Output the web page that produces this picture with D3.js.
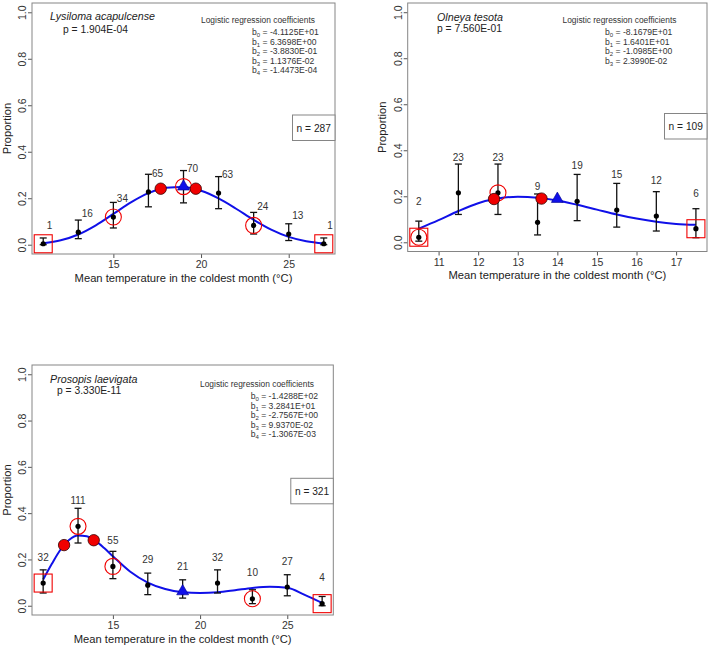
<!DOCTYPE html>
<html>
<head>
<meta charset="utf-8">
<script src="https://cdn.jsdelivr.net/npm/d3@7"></script>
<style>
  body { margin: 0; background: #fff; }
  svg { display: block; font-family: "Liberation Sans", Arial, sans-serif; }
</style>
</head>
<body>
<div id="chart"></div>
<script>
// Lysiloma acapulcense
const lysX = [11, 13, 15, 17, 19, 21, 23, 25, 27];
const lysP = [0.004, 0.054, 0.119, 0.227, 0.25, 0.222, 0.083, 0.046, 0.004];
const lysLo = [0, 0.026, 0.072, 0.163, 0.18, 0.155, 0.046, 0.018, 0];
const lysHi = [0.029, 0.106, 0.182, 0.303, 0.319, 0.293, 0.139, 0.09, 0.029];
const lysN = [1, 16, 34, 65, 70, 63, 24, 13, 1];
const lysFitX = [11, 12, 13, 14, 15, 16, 17, 18, 19, 20, 21, 22, 23, 24, 25, 26, 27];
const lysFitP = [0.0066, 0.019, 0.0439, 0.0833, 0.1325, 0.1821, 0.2218, 0.2449, 0.2483,
                 0.2319, 0.1989, 0.1547, 0.1072, 0.065, 0.0338, 0.0149, 0.0054];
const lysOpt = [19, 0.248];
const lysRangeX = [17.7, 19.7];
const lysRangeP = [0.241, 0.241];
const lysCircled = [15, 19, 23];
const lysBoxed = [11, 27];
const lysCoef = ["-4.1125E+01", "6.3698E+00", "-3.8830E-01", "1.1376E-02", "-1.4473E-04"];
const lysPval = "1.904E-04";
const lysTotal = 287;

// Olneya tesota
const olnX = [10.5, 11.5, 12.5, 13.5, 14.5, 15.5, 16.5, 17.5];
const olnP = [0.022, 0.215, 0.215, 0.087, 0.178, 0.14, 0.114, 0.059];
const olnLo = [0.005, 0.121, 0.121, 0.032, 0.094, 0.066, 0.049, 0.02];
const olnHi = [0.092, 0.34, 0.34, 0.21, 0.295, 0.256, 0.22, 0.146];
const olnN = [2, 23, 23, 9, 19, 15, 12, 6];
const olnFitX = [10.5, 11, 11.5, 12, 12.5, 13, 13.5, 14, 14.5, 15, 15.5, 16, 16.5, 17, 17.5];
const olnFitP = [0.059, 0.096, 0.136, 0.17, 0.19, 0.198, 0.194, 0.182, 0.163,
                 0.142, 0.121, 0.103, 0.089, 0.08, 0.076];
const olnOpt = [14, 0.186];
const olnRangeX = [12.4, 13.6];
const olnRangeP = [0.188, 0.19];
const olnCircled = [10.5, 12.5];
const olnBoxed = [10.5, 17.5];
const olnCoef = ["-8.1679E+01", "1.6401E+01", "-1.0985E+00", "2.3990E-02"];
const olnPval = "7.560E-01";
const olnTotal = 109;

// Prosopis laevigata
const proX = [11, 13, 15, 17, 19, 21, 23, 25, 27];
const proP = [0.098, 0.343, 0.17, 0.089, 0.059, 0.098, 0.03, 0.081, 0.009];
const proLo = [0.055, 0.271, 0.117, 0.048, 0.033, 0.055, 0.009, 0.043, 0];
const proHi = [0.155, 0.421, 0.235, 0.141, 0.112, 0.155, 0.069, 0.134, 0.04];
const proN = [32, 111, 55, 29, 21, 32, 10, 27, 4];
const proFitX = [11, 11.5, 12, 12.5, 13, 13.5, 14, 14.5, 15, 16, 17, 18, 19, 20, 21, 22, 23, 24, 25, 26, 27];
const proFitP = [0.113, 0.181, 0.243, 0.285, 0.303, 0.3, 0.28, 0.249, 0.214, 0.147, 0.1,
                 0.072, 0.058, 0.055, 0.058, 0.067, 0.077, 0.082, 0.078, 0.047, 0.012];
const proOpt = [19, 0.06];
const proRangeX = [12.2, 13.9];
const proRangeP = [0.262, 0.283];
const proCircled = [13, 15, 23];
const proBoxed = [11, 27];
const proCoef = ["-1.4288E+02", "3.2841E+01", "-2.7567E+00", "9.9370E-02", "-1.3067E-03"];
const proPval = "3.330E-11";
const proTotal = 321;

const yTicks = [0, 0.2, 0.4, 0.6, 0.8, 1.0];
const xLabel = "Mean temperature in the coldest month (\u00B0C)";

const width = 709, height = 648;
const frameColor = "#858585", textColor = "#222", red = "#f00000", blue = "#1010e8";

const panels = [
  { species: "Lysiloma acapulcense", pval: lysPval, total: lysTotal, coef: lysCoef,
    x: lysX, p: lysP, lo: lysLo, hi: lysHi, n: lysN, fitX: lysFitX, fitP: lysFitP,
    opt: lysOpt, rangeX: lysRangeX, rangeP: lysRangeP, circled: lysCircled, boxed: lysBoxed,
    xDomain: [10.36, 27.64], xTicks: [15, 20, 25],
    box: { l: 32, r: 335, t: 3, b: 254 }, nTop: 115,
    sp: [50, 20], pv: [63, 33], coefHead: [258, 23], coefX: 252,
    nLabel: { dx: 3.5, anchor: "start", dy: 0.08 } },
  { species: "Olneya tesota", pval: olnPval, total: olnTotal, coef: olnCoef,
    x: olnX, p: olnP, lo: olnLo, hi: olnHi, n: olnN, fitX: olnFitX, fitP: olnFitP,
    opt: olnOpt, rangeX: olnRangeX, rangeP: olnRangeP, circled: olnCircled, boxed: olnBoxed,
    xDomain: [10.22, 17.78], xTicks: [11, 12, 13, 14, 15, 16, 17],
    box: { l: 407.7, r: 707, t: 3, b: 251.5 }, nTop: 113.5,
    sp: [437, 21], pv: [437, 31.5], coefHead: [619.5, 23], coefX: 605,
    nLabel: { dx: 0, anchor: "middle", dy: 0.155 } },
  { species: "Prosopis laevigata", pval: proPval, total: proTotal, coef: proCoef,
    x: proX, p: proP, lo: proLo, hi: proHi, n: proN, fitX: proFitX, fitP: proFitP,
    opt: proOpt, rangeX: proRangeX, rangeP: proRangeP, circled: proCircled, boxed: proBoxed,
    xDomain: [10.36, 27.64], xTicks: [15, 20, 25],
    box: { l: 32, r: 333.3, t: 365, b: 615 }, nTop: 478.3,
    sp: [50, 383], pv: [57, 394], coefHead: [257, 387], coefX: 250.7,
    nLabel: { dx: 0, anchor: "middle", dy: 0.112 } }
];

const svg = d3.select("#chart").append("svg")
  .attr("width", width)
  .attr("height", height);

panels.forEach(cfg => {
  const { l, r, t, b } = cfg.box;
  const x = d3.scaleLinear().domain(cfg.xDomain).range([l, r]);
  const y = d3.scaleLinear().domain([-0.04, 1.04]).range([b, t]);
  const g = svg.append("g");

  // axes
  const xAxis = g.append("g").attr("transform", `translate(0,${b})`)
    .call(d3.axisBottom(x).tickValues(cfg.xTicks).tickSize(4).tickPadding(3).tickFormat(d3.format("d")));
  const yAxis = g.append("g").attr("transform", `translate(${l},0)`)
    .call(d3.axisLeft(y).tickValues(yTicks).tickSize(4).tickFormat(d3.format(".1f")));
  [xAxis, yAxis].forEach(a => {
    a.select(".domain").remove();
    a.selectAll(".tick line").attr("stroke", "#555");
    a.selectAll(".tick text").attr("fill", "#333").style("font-size", "10.5px")
      .style("font-family", "Liberation Sans, Arial, sans-serif");
  });
  yAxis.selectAll(".tick text")
    .attr("x", null).attr("dy", null)
    .attr("text-anchor", "middle")
    .attr("dominant-baseline", "central")
    .attr("transform", "translate(-10,0) rotate(-90)");

  // frame
  g.append("rect").attr("x", l).attr("y", t).attr("width", r - l).attr("height", b - t)
    .attr("fill", "none").attr("stroke", frameColor).attr("stroke-width", 1);

  // axis titles
  g.append("text").attr("x", (l + r) / 2).attr("y", b + 27.5)
    .attr("text-anchor", "middle").attr("fill", textColor).style("font-size", "11.2px")
    .text(xLabel);
  g.append("text")
    .attr("transform", `translate(${l - 25.5},${(t + b) / 2}) rotate(-90)`)
    .attr("text-anchor", "middle").attr("dominant-baseline", "central")
    .attr("fill", textColor).style("font-size", "11.2px")
    .text("Proportion");

  // fitted curve
  const fit = cfg.fitX.map((d, i) => [d, cfg.fitP[i]]);
  g.append("path").datum(fit)
    .attr("fill", "none").attr("stroke", blue).attr("stroke-width", 2)
    .attr("d", d3.line().x(d => x(d[0])).y(d => y(d[1])).curve(d3.curveMonotoneX));

  const pts = cfg.x.map((d, i) => ({ x: d, p: cfg.p[i], lo: cfg.lo[i], hi: cfg.hi[i], n: cfg.n[i] }));

  // error bars
  const eb = g.append("g").attr("stroke", "#111").attr("stroke-width", 1.3);
  eb.selectAll(".v").data(pts).join("line")
    .attr("x1", d => x(d.x)).attr("x2", d => x(d.x))
    .attr("y1", d => y(d.lo)).attr("y2", d => y(d.hi));
  eb.selectAll(".cl").data(pts).join("line").attr("class", "cl")
    .attr("x1", d => x(d.x) - 3.5).attr("x2", d => x(d.x) + 3.5)
    .attr("y1", d => y(d.lo)).attr("y2", d => y(d.lo));
  eb.selectAll(".ch").data(pts).join("line").attr("class", "ch")
    .attr("x1", d => x(d.x) - 3.5).attr("x2", d => x(d.x) + 3.5)
    .attr("y1", d => y(d.hi)).attr("y2", d => y(d.hi));

  // points
  g.selectAll(".dot").data(pts).join("circle").attr("class", "dot")
    .attr("cx", d => x(d.x)).attr("cy", d => y(d.p)).attr("r", 2.6).attr("fill", "#000");

  // sample size labels
  g.selectAll(".nlab").data(pts).join("text").attr("class", "nlab")
    .attr("x", d => x(d.x) + cfg.nLabel.dx)
    .attr("y", d => y(d.p + cfg.nLabel.dy))
    .attr("text-anchor", cfg.nLabel.anchor).attr("dominant-baseline", "central")
    .attr("fill", "#333").style("font-size", "10px")
    .text(d => d.n);

  // open circles and squares around selected points
  const byX = v => pts.find(d => d.x === v);
  g.selectAll(".oc").data(cfg.circled.map(byX)).join("circle").attr("class", "oc")
    .attr("cx", d => x(d.x)).attr("cy", d => y(d.p)).attr("r", 8)
    .attr("fill", "none").attr("stroke", red).attr("stroke-width", 1.1);
  g.selectAll(".sq").data(cfg.boxed.map(byX)).join("rect").attr("class", "sq")
    .attr("x", d => x(d.x) - 9).attr("y", d => y(d.p) - 9)
    .attr("width", 18).attr("height", 18)
    .attr("fill", "none").attr("stroke", red).attr("stroke-width", 1.1);

  // range markers
  g.selectAll(".rg").data(cfg.rangeX.map((d, i) => [d, cfg.rangeP[i]])).join("circle").attr("class", "rg")
    .attr("cx", d => x(d[0])).attr("cy", d => y(d[1])).attr("r", 5.7)
    .attr("fill", red).attr("stroke", "#300").attr("stroke-width", 0.8);

  // optimum triangle
  const tri = d3.symbol().type(d3.symbolTriangle).size(62);
  g.append("path").attr("d", tri())
    .attr("transform", `translate(${x(cfg.opt[0])},${y(cfg.opt[1]) - 0.5})`)
    .attr("fill", blue).attr("stroke", "#00008a").attr("stroke-width", 0.6);

  // headers
  g.append("text").attr("x", cfg.sp[0]).attr("y", cfg.sp[1])
    .attr("fill", textColor).style("font-size", "10.7px").style("font-style", "italic")
    .text(cfg.species);
  g.append("text").attr("x", cfg.pv[0]).attr("y", cfg.pv[1])
    .attr("fill", textColor).style("font-size", "10.3px")
    .text("p = " + cfg.pval);

  // coefficients
  g.append("text").attr("x", cfg.coefHead[0]).attr("y", cfg.coefHead[1])
    .attr("text-anchor", "middle").attr("fill", "#333").style("font-size", "8.4px")
    .text("Logistic regression coefficients");
  cfg.coef.forEach((c, i) => {
    const tx = g.append("text").attr("x", cfg.coefX).attr("y", cfg.coefHead[1] + 12.3 + i * 9.4)
      .attr("fill", "#333").style("font-size", "8.6px");
    tx.append("tspan").text("b");
    tx.append("tspan").attr("dy", 2).style("font-size", "6px").text(i);
    tx.append("tspan").attr("dy", -2).text(" = " + c);
  });

  // n box
  const nb = { x: r - 42.5, y: cfg.nTop, w: 42.5, h: 25.5 };
  g.append("rect").attr("x", nb.x).attr("y", nb.y).attr("width", nb.w).attr("height", nb.h)
    .attr("fill", "#fff").attr("stroke", frameColor).attr("stroke-width", 1);
  g.append("text").attr("x", nb.x + nb.w / 2).attr("y", nb.y + nb.h / 2 + 0.5)
    .attr("text-anchor", "middle").attr("dominant-baseline", "central")
    .attr("fill", textColor).style("font-size", "10.2px")
    .text("n = " + cfg.total);
});
</script>
</body>
</html>
